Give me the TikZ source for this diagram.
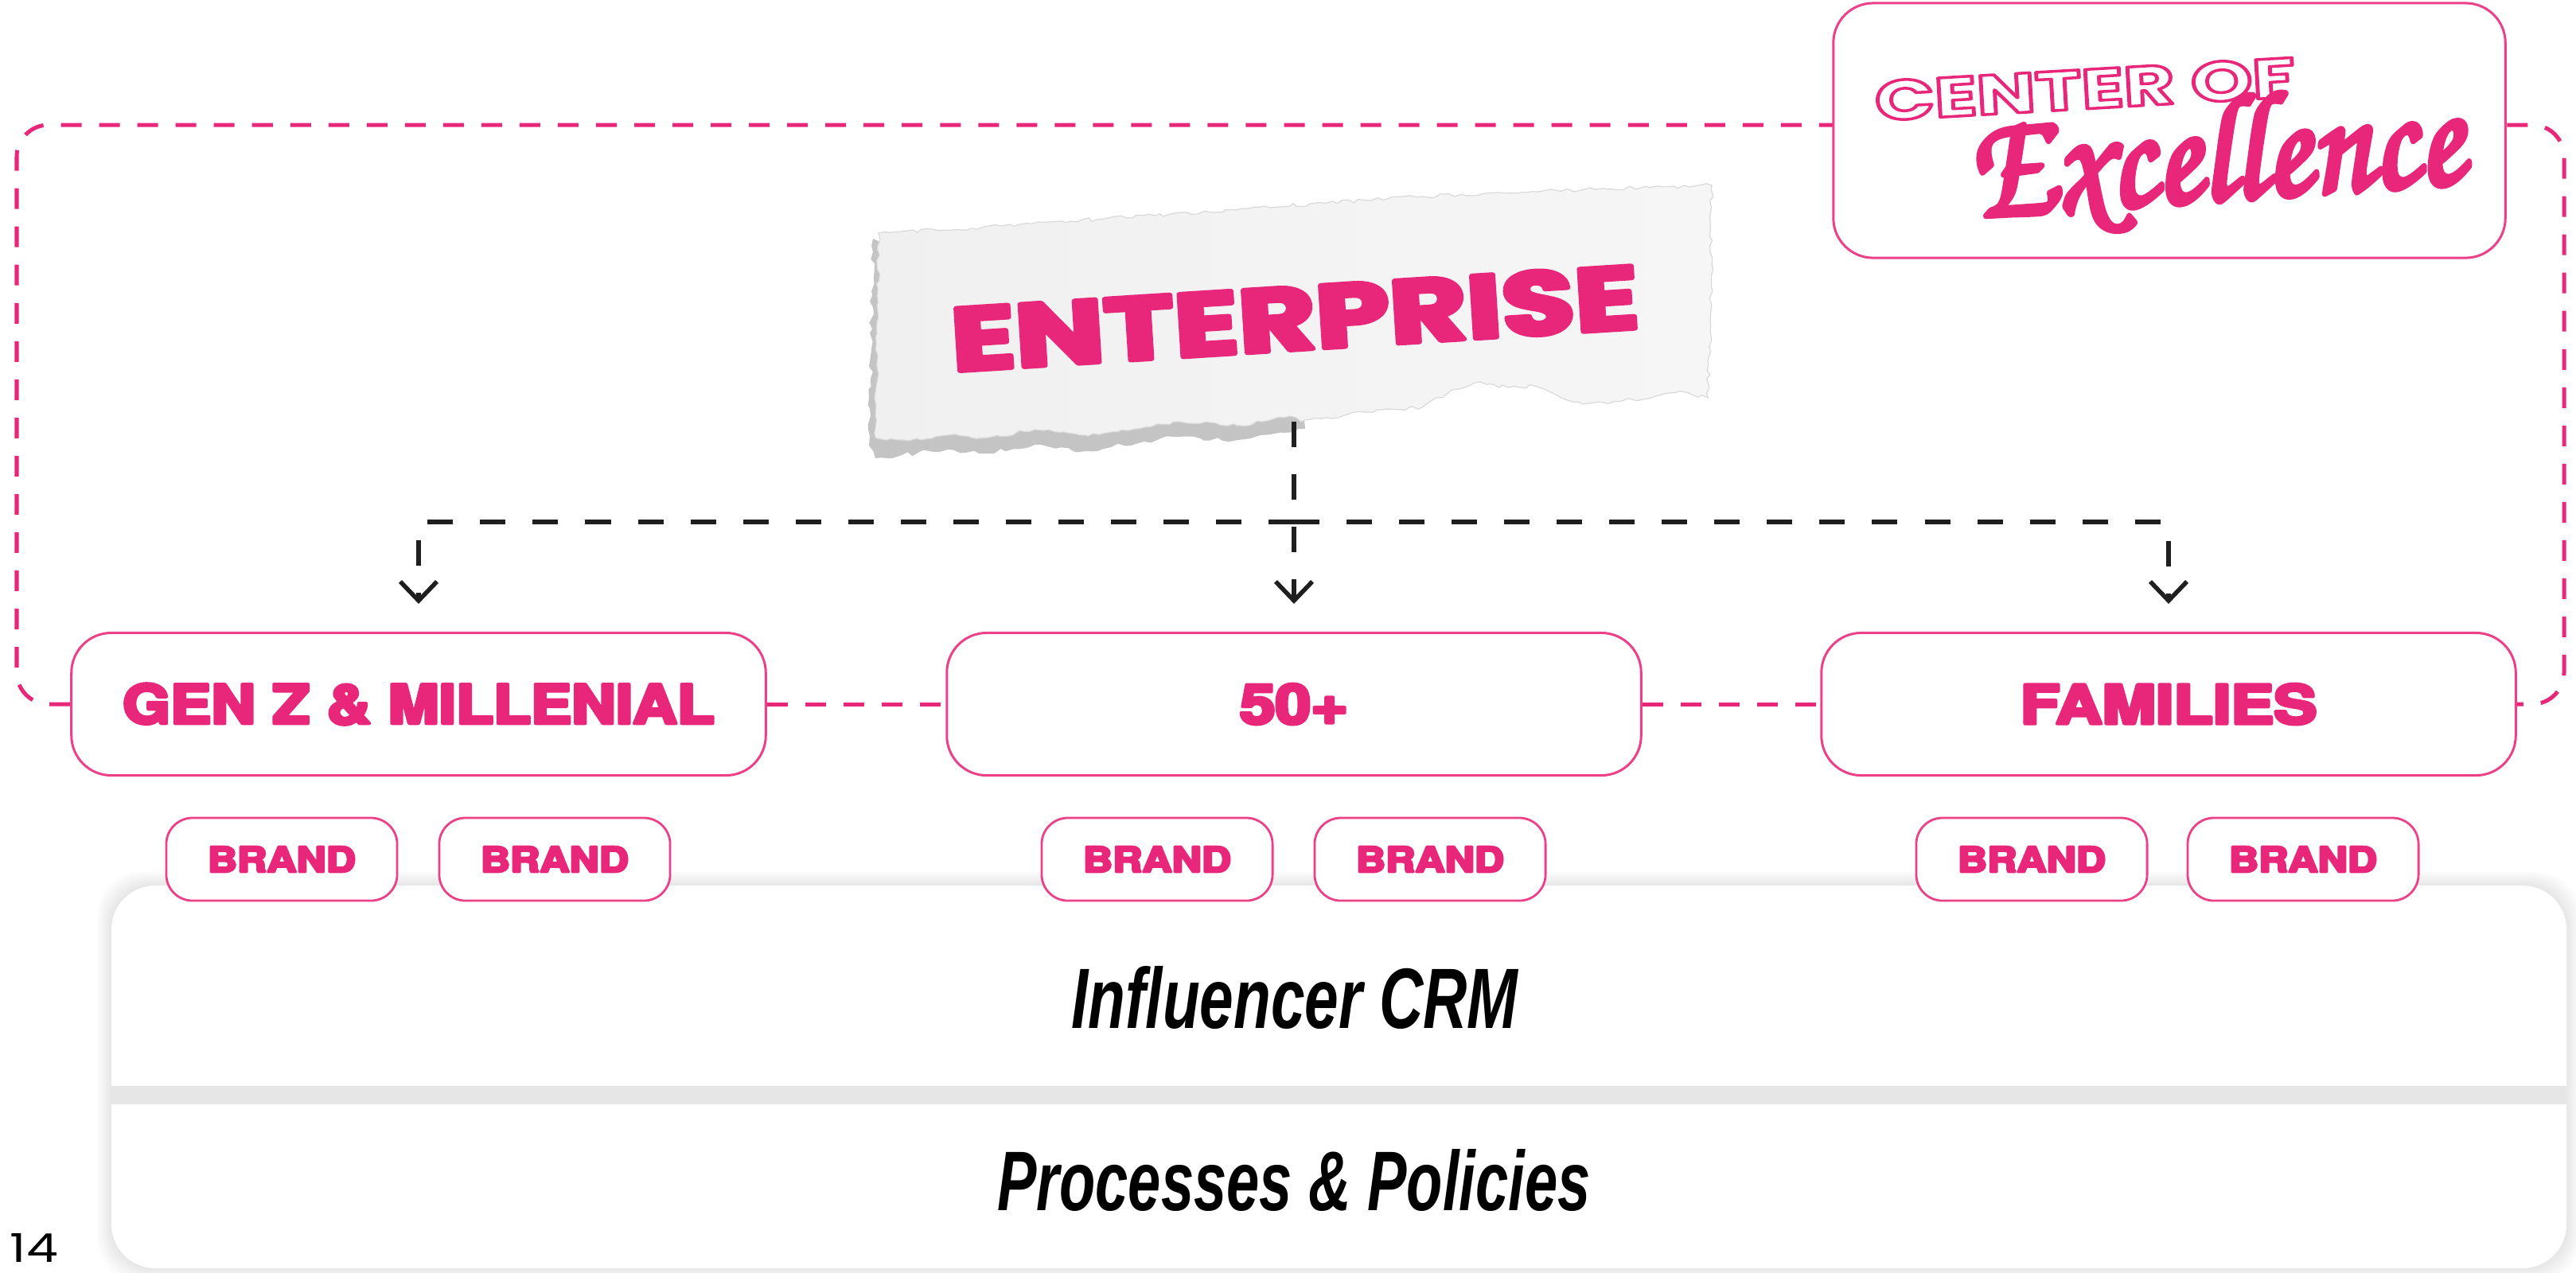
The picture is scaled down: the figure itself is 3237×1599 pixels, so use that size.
\documentclass[tikz,border=0pt]{standalone}
\usepackage[T1]{fontenc}
\usepackage{fontspec}
\usepackage{graphicx}
\usetikzlibrary{arrows.meta,decorations.pathmorphing}
\newfontfamily\popfont{Poppins}
\newfontfamily\grofont{TeX Gyre Heros}
\newfontfamily\narrowfont{Liberation Sans}
\definecolor{brandpink}{HTML}{E8277B}
\definecolor{rimpink}{HTML}{EC4189}
\definecolor{paperL}{HTML}{EAEAEA}
\definecolor{paperR}{HTML}{F6F6F6}
\definecolor{tearshade}{HTML}{C4C4C4}
\definecolor{bandgrey}{HTML}{E6E6E6}
\newcommand\fitto[3]{\resizebox{#1}{#2}{#3}}
% glyphs painted with a PDF text render mode: 2 = filled and stroked (heavier), 1 = outline only
\newcommand\rimtext[3]{{\special{pdf:code q #1 Tr #2 w 1 j}#3\special{pdf:code Q}}}
\pgfdeclarelayer{bg}
\pgfdeclarelayer{back}
\pgfsetlayers{bg,back,main}
\begin{document}
\begin{tikzpicture}[x=0.01cm,y=-0.01cm,
  tier/.style={draw=rimpink, line width=0.03cm, fill=white, rounded corners=0.5cm,
    minimum width=8.72cm, minimum height=1.79cm, inner sep=0pt, text=brandpink},
  brandbox/.style={draw=rimpink, line width=0.028cm, fill=white, rounded corners=0.33cm,
    minimum width=2.9cm, minimum height=1.04cm, inner sep=0pt, text=brandpink},
  loopdash/.style={draw=brandpink, line width=0.05cm, dash pattern=on 0.26cm off 0.22cm},
  linkdash/.style={draw=black!88, line width=0.055cm, dash pattern=on 0.32cm off 0.34cm},
  tip/.style={-{Straight Barb[length=0.24cm,width=0.46cm]}, shorten >=0.35cm},
]
\begin{pgfonlayer}{bg}
  \fill[white] (0,0) rectangle (3237,1599);
\end{pgfonlayer}
\useasboundingbox (0,0) rectangle (3237,1599);

% soft shadow and the two stacked platform panels
\foreach \i in {1,...,12}{
  \fill[black, opacity=0.008, rounded corners=0.55cm]
    (140-1.5*\i,1113-1.5*\i) rectangle (3225+1.5*\i,1594+1.5*\i);
}
\fill[white, rounded corners=0.55cm] (140,1113) rectangle (3225,1594);
\fill[bandgrey] (140,1365) rectangle (3225,1388);
\node[inner sep=0pt] (crm) at (1627,1254)
  {\fitto{5.61cm}{0.78cm}{\narrowfont\bfseries\itshape Influencer CRM}};
\node[inner sep=0pt] (pp) at (1626,1483)
  {\fitto{7.45cm}{0.77cm}{\narrowfont\bfseries\itshape Processes \& Policies}};

% page number
\node[inner sep=0pt] (pgno) at (43,1568) {\fitto{0.6cm}{0.36cm}{\popfont 14}};

% torn paper label
\pgfmathsetseed{42}
\fill[tearshade] decorate[decoration={random steps, segment length=0.08cm, amplitude=0.03cm}]
  {(1097,300) -- (1092,560) -- (1100,576) -- (1133,572) -- (1191,565) -- (1242,570)
   -- (1300,559) -- (1365,567) -- (1438,555) -- (1482,549) -- (1555,553) -- (1640,539)
   -- (1640,500) -- cycle};
\shade[left color=paperL, right color=paperR, draw=gray!30, line width=0.012cm]
  decorate[decoration={random steps, segment length=0.07cm, amplitude=0.025cm}]
  {(1104,293) -- (1220,287) -- (1387,275) -- (1569,262) -- (1787,247) -- (2005,238)
   -- (2151,233) -- (2150,380) -- (2146,500) -- (2107,493) -- (2064,502) -- (1998,507)
   -- (1962,500) -- (1929,485) -- (1896,487) -- (1860,480) -- (1824,490) -- (1787,512)
   -- (1715,518) -- (1635,530) -- (1620,523) -- (1555,535) -- (1482,530) -- (1438,537)
   -- (1365,547) -- (1300,540) -- (1242,550) -- (1191,547) -- (1133,553) -- (1100,550)
   -- (1102,420) -- cycle};
\node[rotate=3.6, inner sep=0pt, text=brandpink] (ent) at (1627,400)
  {\fitto{8.65cm}{0.8cm}{\rimtext{2}{0.5}{\popfont\bfseries ENTERPRISE}}};
\coordinate (entfoot) at (1626,530);
\coordinate (split) at (1626,656);

% segment boxes
\node[tier] (genz) at (526,885)
  {\fitto{7.43cm}{0.5cm}{\rimtext{2}{0.6}{\grofont\bfseries GEN Z \& MILLENIAL}}};
\node[tier] (fifty) at (1626,885)
  {\fitto{1.36cm}{0.5cm}{\rimtext{2}{0.6}{\grofont\bfseries 50+}}};
\node[tier] (families) at (2725,885)
  {\fitto{3.72cm}{0.5cm}{\rimtext{2}{0.6}{\grofont\bfseries FAMILIES}}};

% brand chips
\foreach \nm/\cx in {ga/354, gb/697, fa/1454, fb/1797, ma/2553, mb/2894}{
  \node[brandbox] (\nm) at (\cx,1080)
    {\fitto{1.86cm}{0.32cm}{\rimtext{2}{0.6}{\grofont\bfseries BRAND}}};
}

% center of excellence badge
\node[draw=rimpink, line width=0.03cm, fill=white, rounded corners=0.5cm,
  minimum width=8.44cm, minimum height=3.2cm, inner sep=0pt] (coe) at (2726,164) {};
\node[rotate=3.3, inner sep=0pt, text=brandpink] (coetop) at (2620,112)
  {\fitto{5.28cm}{0.5cm}{\rimtext{1}{0.5}{\popfont\bfseries CENTER OF}}};
\node[rotate=4, inner sep=0pt, text=brandpink] (coescript) at (2785,203)
  {\fitto{6.2cm}{1.35cm}{\rimtext{2}{0.4}{\usefont{T1}{pzc}{mb}{it}Excellence}}};

% dashed frame of the center of excellence
\begin{pgfonlayer}{back}
  \draw[loopdash, rounded corners=0.4cm]
    (genz.west) -| (21,157) -| (3222,885) -- (families.east);
\end{pgfonlayer}
\draw[loopdash] (genz.east) -- (fifty.west);
\draw[loopdash] (fifty.east) -- (families.west);

% enterprise fan-out
\draw[linkdash, tip] (entfoot) -- (fifty.north);
\draw[linkdash, tip] (split) -| (genz.north);
\draw[linkdash, tip] (split) -| (families.north);
\end{tikzpicture}
\end{document}
